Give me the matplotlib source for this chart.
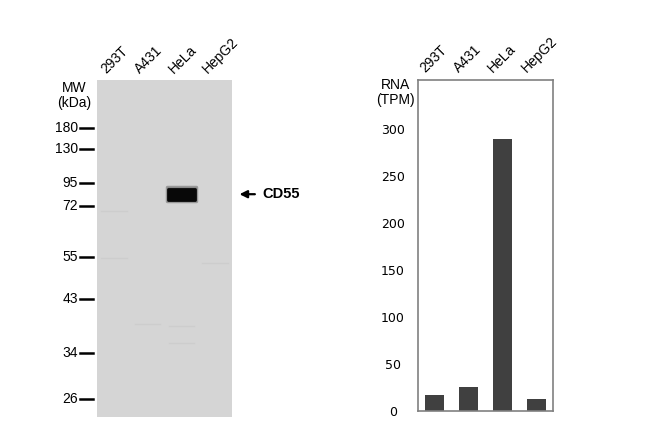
import numpy as np
import matplotlib
matplotlib.use("Agg")
import matplotlib.pyplot as plt
from matplotlib.patches import Rectangle
from matplotlib.transforms import blended_transform_factory

plt.rcParams['font.family'] = ['Liberation Sans', 'DejaVu Sans']

# data
lanes = ["293T", "A431", "HeLa", "HepG2"]
mw_labels = [180, 130, 95, 72, 55, 43, 34, 26]
# marker positions on the blot (pixels from the top of the membrane)
mw_pos = [48, 69, 103, 126, 177, 219, 273, 319]
band_lane = 2
band_mw = 83
band_name = "CD55"
faint_lanes = [0, 0, 3, 1, 2, 2]
faint_mw = [70, 54.6, 53, 38.6, 38.3, 35.5]
rna_tpm = [17, 25.5, 289, 13]

def mw_to_y(mw):
    # markers go down as weight goes down
    return np.interp(-np.log(mw), -np.log(mw_labels), mw_pos)

fig = plt.figure(figsize=(6.5, 4.22), dpi=100)

# blot panel
ax = fig.add_axes([97/650, 5/422, 135/650, 337/422])
ax.set_facecolor("#d5d5d5")
ax.set_xlim(-0.5, 3.5)
ax.set_ylim(337, 0)
for s in ax.spines.values():
    s.set_visible(False)
ax.set_xticks([])
ax.set_yticks([])

trans = blended_transform_factory(ax.transAxes, ax.transData)
for lab, y in zip(mw_labels, mw_pos):
    ax.plot([-0.126, -0.03], [y, y], color="black", lw=1.8, transform=trans, clip_on=False)
    ax.text(-0.142, y, str(lab), ha="right", va="center", fontsize=10, transform=trans)

ax.text(-0.17, 0.976, "MW", ha="center", va="center", fontsize=10, transform=ax.transAxes)
ax.text(-0.17, 0.933, "(kDa)", ha="center", va="center", fontsize=10, transform=ax.transAxes)

# faint background bands
for ln, mw in zip(faint_lanes, faint_mw):
    y = mw_to_y(mw)
    ax.plot([ln - 0.38, ln + 0.38], [y, y], color="#cdcdcd", lw=1.0)

# main band
by = mw_to_y(band_mw)
ax.add_patch(Rectangle((band_lane - 0.44, by - 7), 0.88, 14, fc="#606060", ec="#707070",
                       lw=2.5, joinstyle="round", alpha=0.6))
ax.add_patch(Rectangle((band_lane - 0.4, by - 5.5), 0.8, 11, fc="#080808", ec="#080808",
                       lw=2, joinstyle="round"))

ax.annotate("", xy=(1.035, by), xytext=(1.19, by), xycoords=trans, textcoords=trans,
            arrowprops=dict(arrowstyle="-|>", color="black", lw=1.6, mutation_scale=11))
ax.text(1.222, by, band_name, ha="left", va="center", fontsize=10.5, fontweight="bold", transform=trans)

for i, name in enumerate(lanes):
    ax.text(i - 0.15, 1.012, name, rotation=45, rotation_mode="anchor", ha="left", va="bottom",
            fontsize=10, transform=blended_transform_factory(ax.transData, ax.transAxes))

# RNA bar panel
ax2 = fig.add_axes([418/650, 11/422, 135/650, 331/422])
x = np.arange(len(lanes))
ax2.bar(x, rna_tpm, width=0.56, color="#404040")
ax2.set_xlim(-0.5, 3.5)
ax2.set_ylim(0, 352)
ax2.set_xticks([])
ax2.set_yticks([0, 50, 100, 150, 200, 250, 300])
ax2.tick_params(axis="y", length=0, pad=18)
for t in ax2.get_yticklabels():
    t.set_horizontalalignment("center")
    t.set_fontfamily("DejaVu Sans")
    t.set_fontsize(9)
for s in ax2.spines.values():
    s.set_color("#808080")
    s.set_linewidth(1.2)

ax2.text(-0.17, 0.985, "RNA", ha="center", va="center", fontsize=10, transform=ax2.transAxes)
ax2.text(-0.17, 0.94, "(TPM)", ha="center", va="center", fontsize=10, transform=ax2.transAxes)

for i, name in enumerate(lanes):
    ax2.text(i - 0.22, 1.015, name, rotation=45, rotation_mode="anchor", ha="left", va="bottom",
             fontsize=10, transform=blended_transform_factory(ax2.transData, ax2.transAxes))

plt.savefig("out.png", dpi=100)
